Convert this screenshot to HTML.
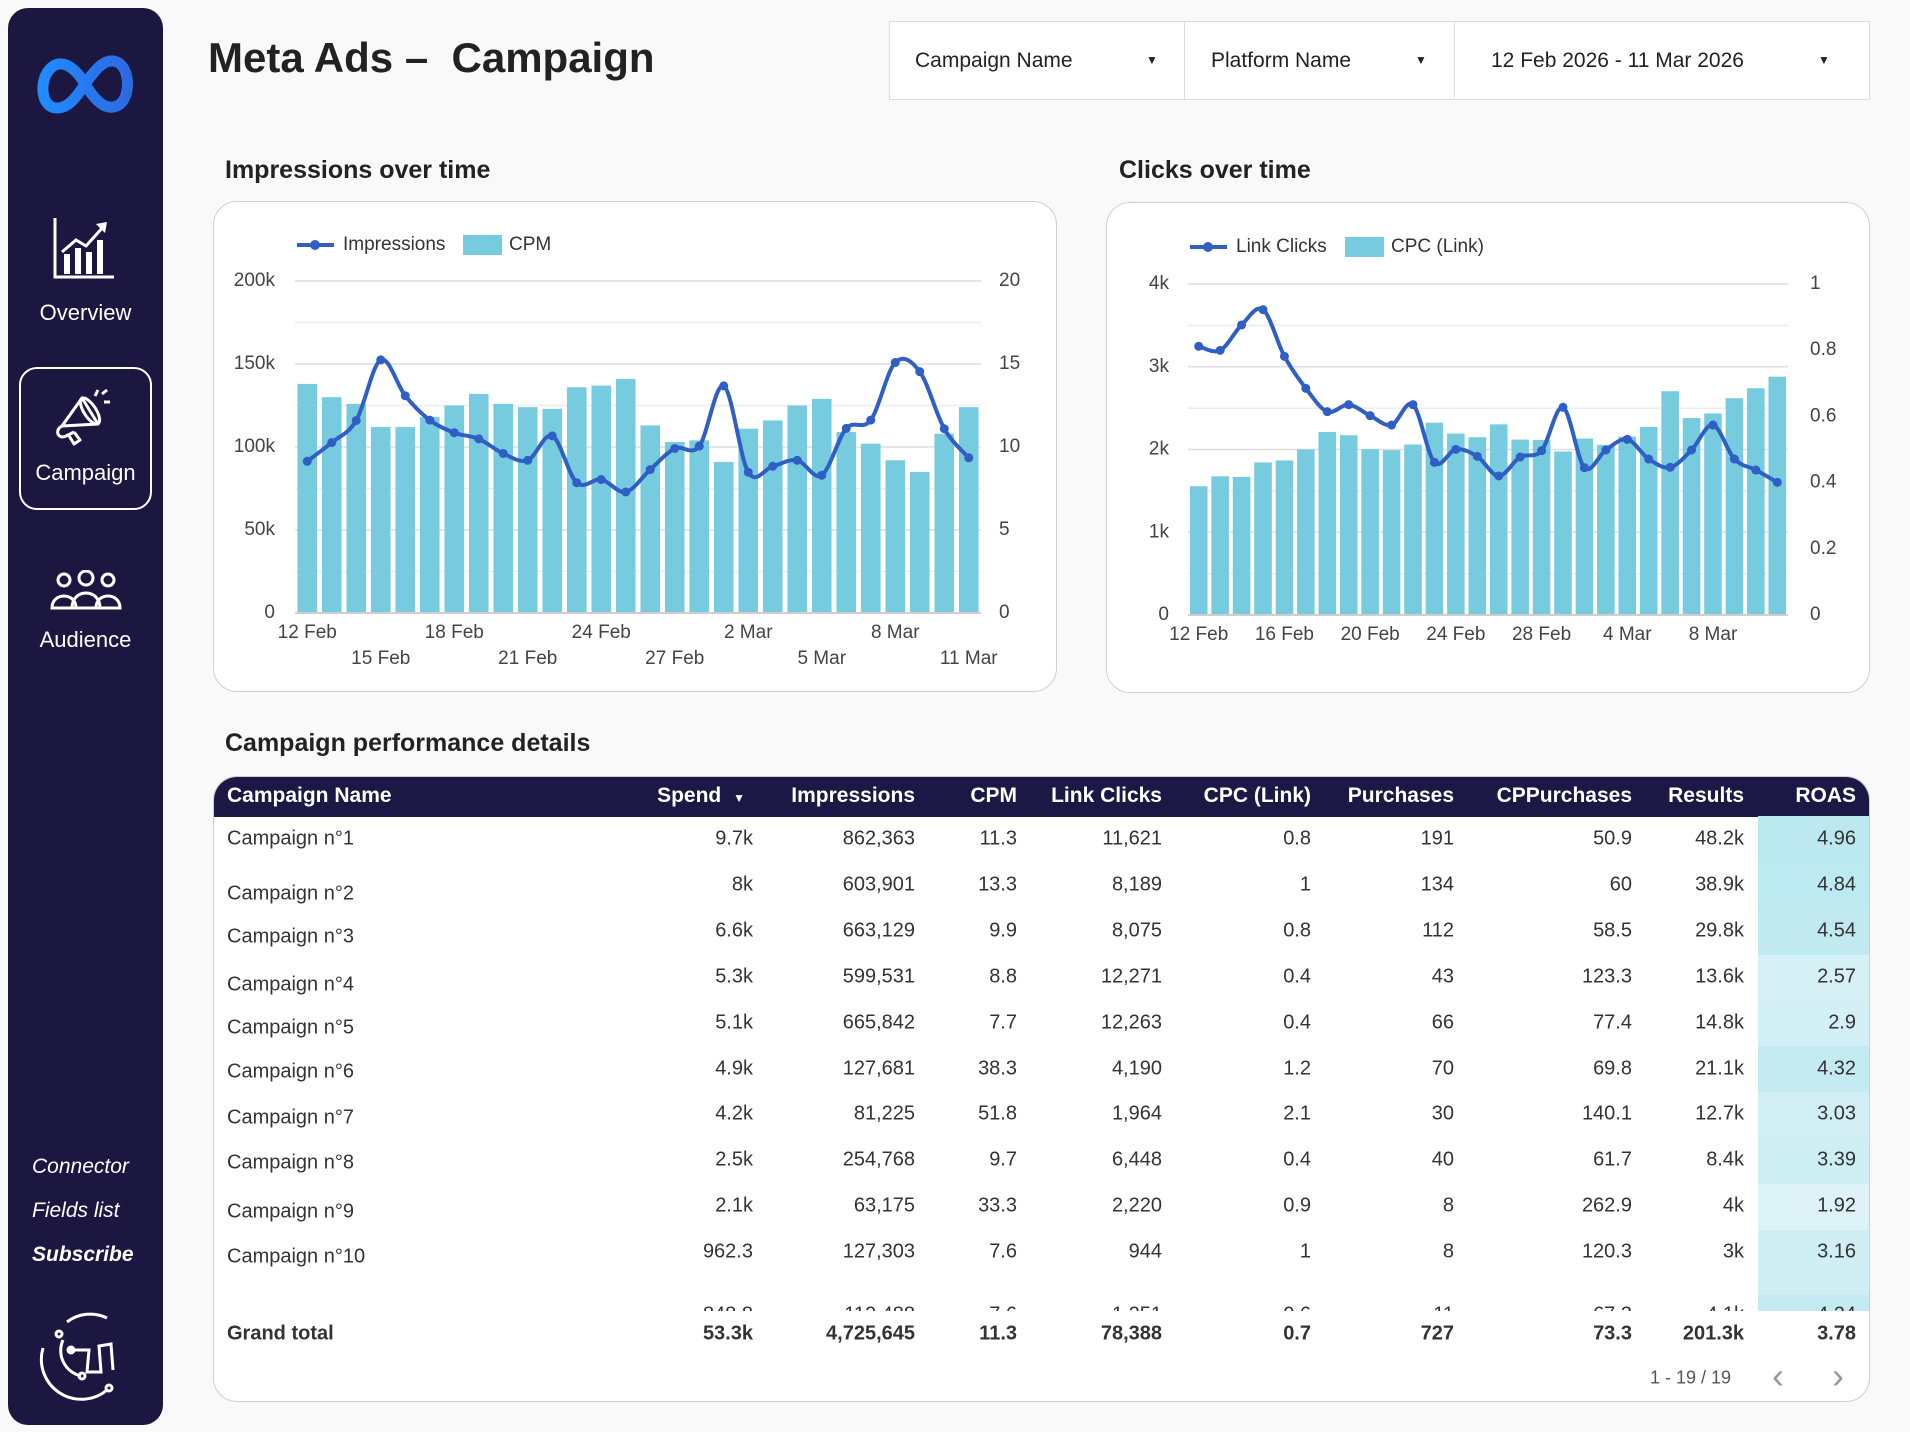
<!DOCTYPE html>
<html><head><meta charset="utf-8">
<style>
*{margin:0;padding:0;box-sizing:border-box}
body{width:1910px;height:1432px;background:#f9f9f9;font-family:"Liberation Sans",sans-serif;position:relative;overflow:hidden;color:#222}
.abs{position:absolute}
.side{left:8px;top:8px;width:155px;height:1417px;background:#1c1741;border-radius:20px}
.sl{color:#fff;font-size:22px;position:absolute;width:155px;text-align:center;left:8px}
.it{color:#fff;font-size:21px;font-style:italic;position:absolute;left:32px}
.card{background:#fff;border:1.5px solid #cfcfcf;border-radius:24px;position:absolute}
.h2{font-size:25px;font-weight:bold;position:absolute;color:#222}
.filt{position:absolute;top:21px;height:79px;background:#fff;border:1.5px solid #ddd;font-size:21px;color:#222;line-height:77px}
.arr{position:absolute;font-size:12px;top:0}
.cell{position:absolute;font-size:20px;color:#333;transform:translateY(-50%);white-space:nowrap}
.r{text-align:right}
.hd{position:absolute;font-size:21px;font-weight:bold;color:#fff;top:796px;transform:translateY(-50%);white-space:nowrap}
</style></head><body>
<div class="abs side"></div>
<svg class="abs" style="left:35px;top:50px" width="100" height="68" viewBox="0 0 100 68">
<defs><linearGradient id="mg" x1="0" x2="1"><stop offset="0" stop-color="#1f8bff"/><stop offset="1" stop-color="#2d6ae0"/></linearGradient></defs>
<path d="M22,58 C6,58 4,32 14,20 C24,8 38,14 50,34 C62,54 72,60 82,56 C96,50 96,18 82,12 C70,7 60,20 50,34 C40,50 32,58 22,58 Z" fill="none" stroke="url(#mg)" stroke-width="11" stroke-linejoin="round"/>
</svg>
<svg class="abs" style="left:52px;top:218px" width="64" height="62" viewBox="0 0 64 62">
<path d="M3,0 V59 H62" fill="none" stroke="#fff" stroke-width="3"/>
<rect x="12" y="36" width="6" height="20" fill="#fff"/><rect x="23" y="30" width="6" height="26" fill="#fff"/><rect x="34" y="34" width="6" height="22" fill="#fff"/><rect x="45" y="22" width="6" height="34" fill="#fff"/>
<path d="M10,34 L24,22 L34,28 L52,8" fill="none" stroke="#fff" stroke-width="3"/><path d="M44,6 L55,4 L53,15 Z" fill="#fff"/>
</svg>
<div class="sl" style="top:300px">Overview</div>
<div class="abs" style="left:19px;top:367px;width:133px;height:143px;border:2px solid #fff;border-radius:18px"></div>
<svg class="abs" style="left:52px;top:386px" width="66" height="60" viewBox="0 0 66 60">
<g fill="none" stroke="#fff" stroke-width="3" stroke-linejoin="round"><path d="M10,40 L30,12 L46,38 Z"/><ellipse cx="38" cy="25" rx="6" ry="15" transform="rotate(-33 38 25)"/><path d="M10,40 C2,44 6,54 14,50 L22,46"/><path d="M16,48 L22,58 L28,54 L22,46"/><path d="M46,4 L43,10 M52,16 L58,16 M50,8 L55,4"/></g>
</svg>
<div class="sl" style="top:460px">Campaign</div>
<svg class="abs" style="left:50px;top:570px" width="72" height="42" viewBox="0 0 72 42">
<g fill="none" stroke="#fff" stroke-width="3"><circle cx="14" cy="10" r="6"/><circle cx="36" cy="8" r="7"/><circle cx="58" cy="10" r="6"/><path d="M2,38 C2,22 26,22 26,38 Z"/><path d="M22,38 C22,18 50,18 50,38 Z"/><path d="M46,38 C46,22 70,22 70,38 Z"/></g>
</svg>
<div class="sl" style="top:627px">Audience</div>
<div class="it" style="top:1155px">Connector</div>
<div class="it" style="top:1199px">Fields list</div>
<div class="it" style="top:1243px;font-weight:bold">Subscribe</div>
<svg class="abs" style="left:37px;top:1310px" width="98" height="92" viewBox="0 0 98 92">
<g fill="none" stroke="#fff" stroke-width="3"><path d="M30,12 A38,38 0 0 1 70,8"/><path d="M6,38 A40,40 0 0 0 70,80"/><path d="M26,30 A26,26 0 0 0 44,66"/><path d="M36,40 L52,40 L50,62 L64,62 L62,36 L74,34 L76,60"/><circle cx="22" cy="24" r="3"/><circle cx="45" cy="66" r="3"/><circle cx="72" cy="78" r="3"/><circle cx="34" cy="40" r="3" fill="#fff"/></g>
</svg>

<div class="abs" style="left:208px;top:34px;font-size:42px;font-weight:bold;color:#222">Meta Ads –&nbsp; Campaign</div>
<div class="filt" style="left:889px;width:296px"><span style="position:absolute;left:25px">Campaign Name</span><span class="arr" style="left:256px">▼</span></div>
<div class="filt" style="left:1184px;width:271px"><span style="position:absolute;left:26px">Platform Name</span><span class="arr" style="left:230px">▼</span></div>
<div class="filt" style="left:1454px;width:416px"><span style="position:absolute;left:36px">12 Feb 2026 - 11 Mar 2026</span><span class="arr" style="left:363px">▼</span></div>

<div class="h2" style="left:225px;top:156px">Impressions over time</div>
<div class="h2" style="left:1119px;top:156px">Clicks over time</div>
<div class="card" style="left:213px;top:201px;width:844px;height:491px"></div>
<div class="card" style="left:1106px;top:202px;width:764px;height:491px"></div>
<svg id="charts" class="abs" style="left:0;top:0" width="1910" height="1432" viewBox="0 0 1910 1432" font-family="Liberation Sans, sans-serif"></svg>

<div class="h2" style="left:225px;top:729px">Campaign performance details</div>
<div class="card" style="left:213px;top:776px;width:1657px;height:626px;overflow:hidden">
<div style="position:absolute;left:0;top:0;width:100%;height:40px;background:#1c1845"></div>
</div>
<div id="tbl"></div>

<script>
const dates=['12 Feb','13 Feb','14 Feb','15 Feb','16 Feb','17 Feb','18 Feb','19 Feb','20 Feb','21 Feb','22 Feb','23 Feb','24 Feb','25 Feb','26 Feb','27 Feb','28 Feb','1 Mar','2 Mar','3 Mar','4 Mar','5 Mar','6 Mar','7 Mar','8 Mar','9 Mar','10 Mar','11 Mar'];
const impressions=[91400,102700,116000,152500,130900,116200,108600,104900,96100,92000,106700,78500,80400,72900,86400,99100,100500,136800,84800,88400,92000,83000,111200,116200,150900,145400,111000,93500];
const cpm=[13.8,13.0,12.6,11.2,11.2,11.8,12.5,13.2,12.6,12.4,12.3,13.6,13.7,14.1,11.3,10.3,10.4,9.1,11.1,11.6,12.5,12.9,10.9,10.2,9.2,8.5,10.8,12.4];
const linkClicks=[3247,3198,3505,3690,3126,2739,2457,2542,2409,2296,2542,1845,2002,1917,1680,1909,1986,2510,1780,1994,2123,1885,1785,1994,2296,1885,1752,1603];
const cpc=[0.389,0.419,0.417,0.461,0.467,0.5,0.553,0.543,0.501,0.498,0.515,0.581,0.548,0.537,0.576,0.53,0.529,0.494,0.533,0.514,0.539,0.568,0.676,0.595,0.609,0.655,0.685,0.72];
const impTicks=['0','50k','100k','150k','200k'];
const impTickVals=[0,50000,100000,150000,200000];
const cpmTicks=['0','5','10','15','20'];
const clickTicks=['0','1k','2k','3k','4k'];
const clickTickVals=[0,1000,2000,3000,4000];
const cpcTicks=['0','0.2','0.4','0.6','0.8','1'];
const cpcTickVals=[0,0.2,0.4,0.6,0.8,1];

const NS='http://www.w3.org/2000/svg';
const svg=document.getElementById('charts');
function mk(tag,attrs,parent){const e=document.createElementNS(NS,tag);for(const k in attrs)e.setAttribute(k,attrs[k]);(parent||svg).appendChild(e);return e;}
function txt(x,y,s,anchor,size,fill){const t=mk('text',{x:x,y:y,'text-anchor':anchor,'font-size':size,fill:fill||'#444','dominant-baseline':'middle'});t.textContent=s;return t;}
function smooth(pts){let d='M'+pts[0][0]+','+pts[0][1];for(let i=0;i<pts.length-1;i++){const p0=pts[i-1]||pts[i],p1=pts[i],p2=pts[i+1],p3=pts[i+2]||p2;const c1x=p1[0]+(p2[0]-p0[0])/6,c1y=p1[1]+(p2[1]-p0[1])/6,c2x=p2[0]-(p3[0]-p1[0])/6,c2y=p2[1]-(p3[1]-p1[1])/6;d+=' C'+c1x+','+c1y+' '+c2x+','+c2y+' '+p2[0]+','+p2[1];}return d;}

function drawChart(cfg){
  const n=cfg.cats.length, band=(cfg.x1-cfg.x0)/n;
  const xs=i=>cfg.x0+(i+0.5)*band;
  const yL=v=>cfg.yb-v/cfg.maxL*(cfg.yb-cfg.yt);
  const yR=v=>cfg.yb-v/cfg.maxR*(cfg.yb-cfg.yt);
  const steps=8;
  for(let k=0;k<=steps;k++){const y=cfg.yb-(cfg.yb-cfg.yt)*k/steps;const g=mk('line',{x1:cfg.x0,x2:cfg.x1,y1:y,y2:y,stroke:k%2?'#ececec':'#dedede','stroke-width':1.5});
    
    }
  cfg.lTickVals.forEach((v,i)=>{const t=txt(cfg.lx,yL(v),cfg.lTicks[i],'end',19);
    
    });
  cfg.rTickVals.forEach((v,i)=>{const t=txt(cfg.rx,yR(v),cfg.rTicks[i],'start',19);
    
    });
  cfg.bars.forEach((v,i)=>{const w=band*cfg.bw;const r=mk('rect',{x:xs(i)-w/2,y:yR(v),width:w,height:cfg.yb-yR(v),fill:'#76cbde'});
    
    });
  const ax=mk('line',{x1:cfg.x0,x2:cfg.x1,y1:cfg.yb,y2:cfg.yb,stroke:'#cfcfcf','stroke-width':2});
  
  
  const pts=cfg.line.map((v,i)=>[xs(i),yL(v)]);
  const p=mk('path',{d:smooth(pts),fill:'none',stroke:'#2f5fc4','stroke-width':4,'stroke-linejoin':'round'});
  
  
  pts.forEach(q=>{const c=mk('circle',{cx:q[0],cy:q[1],r:4.5,fill:'#2f5fc4'});
    
    });
  cfg.cats.forEach((c,i)=>{if(i%cfg.every)return;const row=cfg.alt?((i/cfg.every)%2):0;const t=txt(xs(i),cfg.xly+row*26,c,'middle',19);
    
    });
  const lg=mk('g',{});
  
  
  mk('line',{x1:cfg.lgx,x2:cfg.lgx+37,y1:cfg.lgy,y2:cfg.lgy,stroke:'#2f5fc4','stroke-width':4},lg);
  mk('circle',{cx:cfg.lgx+18,cy:cfg.lgy,r:5,fill:'#2f5fc4'},lg);
  const t1=txt(cfg.lgx+46,cfg.lgy,cfg.lname,'start',19,'#333');lg.appendChild(t1);
  mk('rect',{x:cfg.lgb,y:cfg.lgy-10,width:39,height:20,fill:'#76cbde'},lg);
  const t2=txt(cfg.lgb+46,cfg.lgy,cfg.bname,'start',19,'#333');lg.appendChild(t2);
}
drawChart({cats:dates,x0:295,x1:981,yt:281,yb:613,maxL:200000,maxR:20,lTicks:impTicks,lTickVals:impTickVals,rTicks:cpmTicks,rTickVals:[0,5,10,15,20],lx:275,rx:999,bars:cpm,line:impressions,bw:0.8,key:'cpm',lkey:'impressions',every:3,alt:true,xly:633,lgx:297,lgy:245,lgb:463,lname:'Impressions',bname:'CPM'});
drawChart({cats:dates,x0:1188,x1:1788,yt:284,yb:615,maxL:4000,maxR:1,lTicks:clickTicks,lTickVals:clickTickVals,rTicks:cpcTicks,rTickVals:cpcTickVals,lx:1169,rx:1810,bars:cpc,line:linkClicks,bw:0.82,key:'cpc',lkey:'link-clicks',every:4,alt:false,xly:635,lgx:1190,lgy:247,lgb:1345,lname:'Link Clicks',bname:'CPC (Link)'});

const tbl=document.getElementById('tbl');
const cols=[['Campaign Name',227,'l'],['Spend',753,'r'],['Impressions',915,'r'],['CPM',1017,'r'],['Link Clicks',1162,'r'],['CPC (Link)',1311,'r'],['Purchases',1454,'r'],['CPPurchases',1632,'r'],['Results',1744,'r'],['ROAS',1856,'r']];
const rows=[
['Campaign n°1','9.7k','862,363','11.3','11,621','0.8','191','50.9','48.2k','4.96'],
['Campaign n°2','8k','603,901','13.3','8,189','1','134','60','38.9k','4.84'],
['Campaign n°3','6.6k','663,129','9.9','8,075','0.8','112','58.5','29.8k','4.54'],
['Campaign n°4','5.3k','599,531','8.8','12,271','0.4','43','123.3','13.6k','2.57'],
['Campaign n°5','5.1k','665,842','7.7','12,263','0.4','66','77.4','14.8k','2.9'],
['Campaign n°6','4.9k','127,681','38.3','4,190','1.2','70','69.8','21.1k','4.32'],
['Campaign n°7','4.2k','81,225','51.8','1,964','2.1','30','140.1','12.7k','3.03'],
['Campaign n°8','2.5k','254,768','9.7','6,448','0.4','40','61.7','8.4k','3.39'],
['Campaign n°9','2.1k','63,175','33.3','2,220','0.9','8','262.9','4k','1.92'],
['Campaign n°10','962.3','127,303','7.6','944','1','8','120.3','3k','3.16']];
const nameY=[839,894,937,985,1028,1072,1118,1163,1212,1257];
const rowTop=[816,862,908,955,1000,1046,1092,1138,1184,1230,1295];
let h='';
cols.forEach((c,j)=>{const lbl=j==1?'Spend <span style="font-size:12px;margin-left:6px">▼</span>':c[0];
 h+= c[2]=='l'?`<div class="hd" style="left:${c[1]}px">${lbl}</div>`:`<div class="hd" style="right:${1910-c[1]+(j==1?8:0)}px">${lbl}</div>`;});
rows.forEach((r,i)=>{
 const v=parseFloat(r[9]);const t=Math.max(0,Math.min(1,(v-1.5)/3.6));
 const R=Math.round(226-t*(226-186)),G=Math.round(245-t*(245-232)),B=Math.round(248-t*(248-239));
 const bottom=i<9?rowTop[i+1]:1295;
 h+=`<div class="abs" style="left:1758px;top:${rowTop[i]}px;width:111px;height:${bottom-rowTop[i]}px;background:rgb(${R},${G},${B})"></div>`;
 const vy=839+45.9*i;
 r.forEach((s,j)=>{const y=j==0?nameY[i]:vy;
  h+= j==0?`<div class="cell" style="left:227px;top:${y}px">${s}</div>`:`<div class="cell" style="right:${1910-cols[j][1]}px;top:${y}px">${s}</div>`;});
});
h+=`<div class="abs" style="left:1758px;top:1295px;width:111px;height:16px;background:#c3eaf1"></div>`;
const part=['848.8','112,488','7.6','1,251','0.6','11','67.3','4.1k','4.24'];
h+=`<div class="abs" style="left:213px;top:1304px;width:1657px;height:7px;overflow:hidden">`;
part.forEach((s,j)=>{h+=`<div class="cell" style="right:${1870-cols[j+1][1]}px;top:11px">${s}</div>`;});
h+='</div>';
const tot=['Grand total','53.3k','4,725,645','11.3','78,388','0.7','727','73.3','201.3k','3.78'];
tot.forEach((s,j)=>{h+= j==0?`<div class="cell" style="left:227px;top:1334px;font-weight:bold">${s}</div>`:`<div class="cell" style="right:${1910-cols[j][1]}px;top:1334px;font-weight:bold">${s}</div>`;});
h+=`<div class="cell" style="left:1650px;top:1378px;font-size:18px;color:#555">1 - 19 / 19</div>`;
h+=`<div class="cell" style="left:1772px;top:1376px;font-size:36px;color:#999">&#x2039;</div>`;
h+=`<div class="cell" style="left:1832px;top:1376px;font-size:36px;color:#999">&#x203A;</div>`;
tbl.innerHTML=h;
</script>
</body></html>
